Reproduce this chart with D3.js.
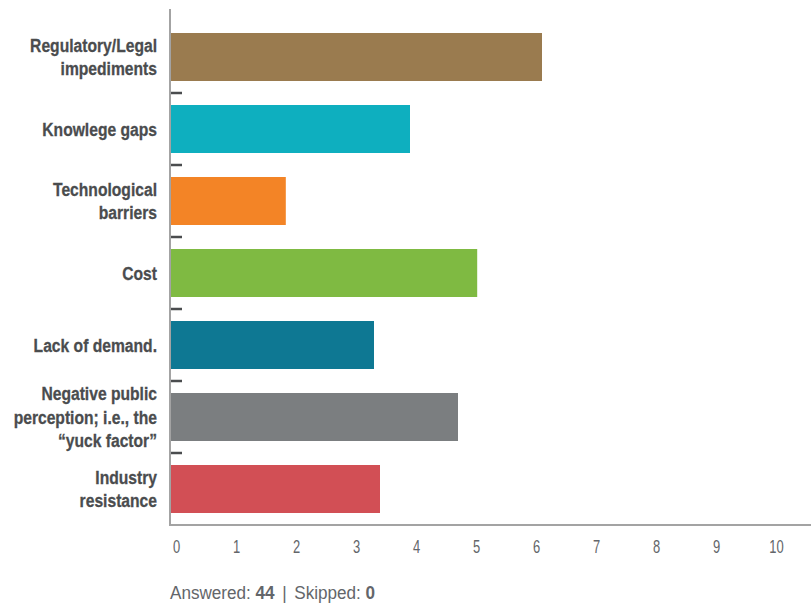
<!DOCTYPE html>
<html><head><meta charset="utf-8">
<script src="https://cdn.jsdelivr.net/npm/d3@7"></script>
<style>
html,body{margin:0;padding:0;background:#fff;}
svg{display:block;}
.lab{font-family:"Liberation Sans",Arial,sans-serif;font-weight:bold;font-size:19px;fill:#4a4c4e;stroke:#4a4c4e;stroke-width:0.3px;}
.tick text{font-family:"Liberation Sans",Arial,sans-serif;font-size:18px;fill:#63666a;}
.foot{font-family:"Liberation Sans",Arial,sans-serif;font-size:18px;fill:#63666a;}
</style></head>
<body>
<script>
const categories = [
  ["Regulatory/Legal","impediments"],
  ["Knowlege gaps"],
  ["Technological","barriers"],
  ["Cost"],
  ["Lack of demand."],
  ["Negative public","perception; i.e., the","\u201cyuck factor\u201d"],
  ["Industry","resistance"]
];
const values = [6.2, 4.0, 1.93, 5.12, 3.4, 4.8, 3.5];
const colors = ["#9a7b4f","#0eafbf","#f38426","#7fba42","#0e7893","#7b7e80","#d24f55"];
const xTicks = [0,1,2,3,4,5,6,7,8,9,10];
const answered = 44, skipped = 0;

const W = 811, H = 604;
const svg = d3.select("body").append("svg").attr("width", W).attr("height", H);

const x = d3.scaleLinear().domain([0,10]).range([170,770]);
const y = d3.scaleBand().domain(d3.range(categories.length)).range([21,525])
  .paddingInner(1/3).paddingOuter(1/6);

// bars
svg.selectAll("rect.bar").data(values).join("rect")
  .attr("class","bar")
  .attr("x", x(0))
  .attr("y", (d,i)=>y(i))
  .attr("width", d=>x(d)-x(0))
  .attr("height", y.bandwidth())
  .attr("fill", (d,i)=>colors[i]);

// axes lines
svg.append("line").attr("x1",170).attr("x2",170).attr("y1",9).attr("y2",526)
  .attr("stroke","#a3a3a3").attr("stroke-width",2);
svg.append("line").attr("x1",169).attr("x2",811).attr("y1",525).attr("y2",525)
  .attr("stroke","#a3a3a3").attr("stroke-width",2);

// separator ticks between categories
const step = y.step();
svg.selectAll("line.sep").data(d3.range(1,categories.length)).join("line")
  .attr("class","sep")
  .attr("x1",171).attr("x2",182)
  .attr("y1",i=>y(i)-(step-y.bandwidth())/2)
  .attr("y2",i=>y(i)-(step-y.bandwidth())/2)
  .attr("stroke","#4a4c4e").attr("stroke-width",2.5);

// category labels (condensed by horizontal scaling)
const lh = 23.5;
const probe = svg.append("text").attr("class","lab").text("Regulatory/Legal");
const sLab = 127 / probe.node().getComputedTextLength();
probe.remove();
categories.forEach((lines,i)=>{
  const cy = y(i)+y.bandwidth()/2;
  lines.forEach((ln,j)=>{
    svg.append("text").attr("class","lab").attr("text-anchor","end")
      .attr("transform",`translate(157,${cy + (j-(lines.length-1)/2)*lh}) scale(${sLab},1)`)
      .attr("dy","0.35em").text(ln);
  });
});

// x axis
const ax = svg.append("g").attr("transform","translate(0,525)")
  .call(d3.axisBottom(x).tickValues(xTicks).tickSize(0).tickPadding(0).tickFormat(d3.format("d")));
ax.select(".domain").remove();
ax.selectAll(".tick text").attr("y",0).attr("dy",0)
  .attr("transform","translate(6,28) scale(0.72,1)");

// footer
const f = svg.append("text").attr("class","foot").attr("transform","translate(170,599)");
f.append("tspan").text("Answered: ");
f.append("tspan").attr("font-weight","bold").text(answered);
f.append("tspan").attr("dx",8).text("|");
f.append("tspan").attr("dx",8).text("Skipped: ");
f.append("tspan").attr("font-weight","bold").text(skipped);
const fw = f.node().getComputedTextLength();
f.attr("transform",`translate(170,599) scale(${190/fw},1)`);
</script>
</body></html>
